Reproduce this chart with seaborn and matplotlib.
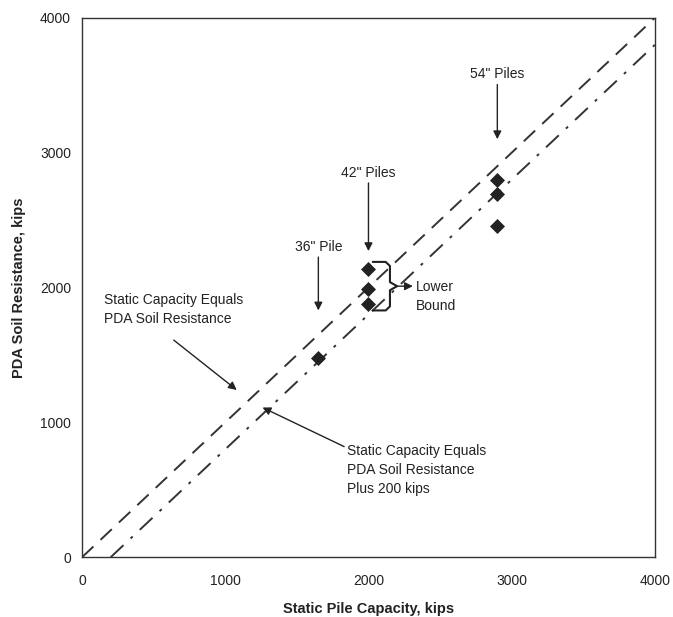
import pandas as pd
import matplotlib.pyplot as plt
import seaborn as sns

# readings
static_capacity = [1650, 2000, 2000, 2000, 2900, 2900, 2900]
pda_resistance = [1480, 2140, 1990, 1880, 2800, 2690, 2460]
pile_group = ['36" Pile', '42" Piles', '42" Piles', '42" Piles', '54" Piles', '54" Piles', '54" Piles']

line_x = [0, 4000]
equal_y = [0, 4000]
offset_x = [200, 4000]
offset_y = [0, 3800]

ticks = [0, 1000, 2000, 3000, 4000]

df = pd.DataFrame({"static": static_capacity, "pda": pda_resistance, "group": pile_group})

sns.set_style("white")
plt.rcParams['font.family'] = ['Liberation Sans', 'DejaVu Sans']

fig, ax = plt.subplots(figsize=(6.73, 6.17), dpi=100)
fig.subplots_adjust(left=0.122, right=0.973, top=0.971, bottom=0.097)

sns.lineplot(x=line_x, y=equal_y, ax=ax, color="#333333", lw=1.4)
ax.lines[-1].set_dashes([8, 5])
sns.lineplot(x=offset_x, y=offset_y, ax=ax, color="#333333", lw=1.4)
ax.lines[-1].set_dashes([9, 5, 1.5, 5])

sns.scatterplot(data=df, x="static", y="pda", ax=ax, marker="D", s=50,
                color="#222222", edgecolor="#222222", legend=False, zorder=5)

ax.set_xlim(0, 4000)
ax.set_ylim(0, 4000)
ax.set_xticks(ticks)
ax.set_yticks(ticks)
ax.tick_params(direction="in", length=4, width=0.8, labelsize=10, colors="#222222", pad=12)
ax.tick_params(axis="y", pad=8)
for s in ax.spines.values():
    s.set_color("#333333")
    s.set_linewidth(1.0)

ax.set_xlabel("Static Pile Capacity, kips", fontsize=10.5, fontweight="bold", color="#222222", labelpad=10)
ax.set_ylabel("PDA Soil Resistance, kips", fontsize=10.5, fontweight="bold", color="#222222", labelpad=10)

arrow = dict(arrowstyle="-|>", color="#222222", lw=1.0, mutation_scale=12, shrinkA=0, shrinkB=0)
txt = dict(fontsize=10, color="#222222")

ax.annotate('54" Piles', xy=(2900, 3100), xytext=(2900, 3530), ha="center", va="bottom",
            arrowprops=arrow, **txt)
ax.annotate('42" Piles', xy=(2000, 2270), xytext=(2000, 2800), ha="center", va="bottom",
            arrowprops=arrow, **txt)
ax.annotate('36" Pile', xy=(1650, 1830), xytext=(1650, 2250), ha="center", va="bottom",
            arrowprops=arrow, **txt)

# brace around the 42" piles
top = max(pda_resistance[1:4]) + 50
bot = min(pda_resistance[1:4]) - 50
mid = (top + bot) / 2
bx = [2030, 2120, 2150, 2150, 2200, 2150, 2150, 2120, 2030]
by = [top, top, top - 30, mid + 30, mid, mid - 30, bot + 30, bot, bot]
ax.plot(bx, by, color="#222222", lw=1.5, solid_joinstyle="round")
ax.annotate("", xy=(2310, mid), xytext=(2200, mid), arrowprops=arrow)
ax.text(2330, 1930, "Lower\nBound", ha="left", va="center", linespacing=1.45, **txt)

ax.text(150, 1835, "Static Capacity Equals\nPDA Soil Resistance", ha="left", va="center",
        linespacing=1.45, **txt)
ax.annotate("", xy=(1080, 1240), xytext=(640, 1610), arrowprops=arrow)

ax.text(1850, 840, "Static Capacity Equals\nPDA Soil Resistance\nPlus 200 kips", ha="left", va="top",
        linespacing=1.45, **txt)
ax.annotate("", xy=(1260, 1110), xytext=(1830, 820), arrowprops=arrow)

plt.savefig("out.png", dpi=100)
